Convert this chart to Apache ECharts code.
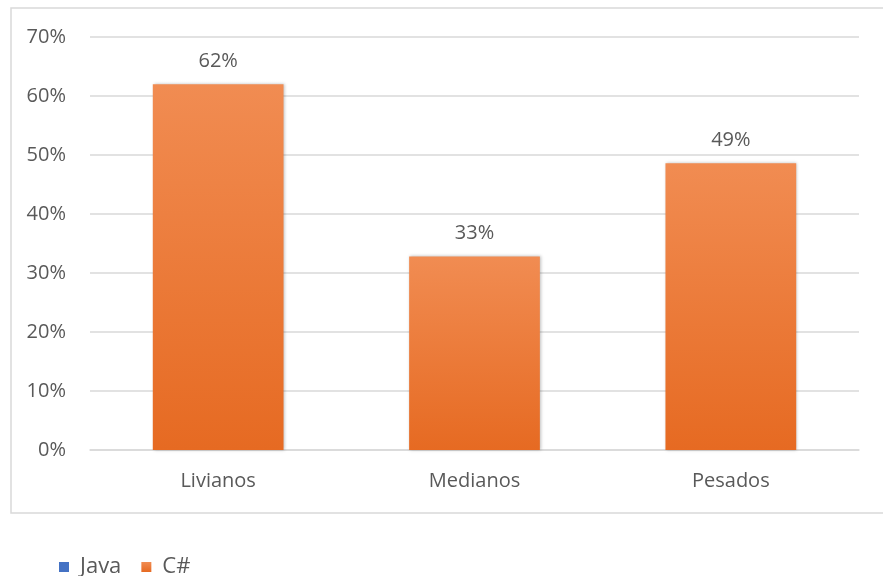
<!DOCTYPE html>
<html>
<head>
<meta charset="utf-8">
<script src="https://cdn.jsdelivr.net/npm/echarts@6/dist/echarts.min.js"></script>
<style>
  html, body { margin: 0; padding: 0; background: #fff; }
  #chart { width: 883px; height: 576px; }
</style>
</head>
<body>
<div id="chart"></div>
<script>
const categories = ['Livianos', 'Medianos', 'Pesados'];
const javaValues = ['-', '-', '-'];
const csharpValues = [62, 32.8, 48.6];
const yTicks = [0, 10, 20, 30, 40, 50, 60, 70];

const chart = echarts.init(document.getElementById('chart'));
const font = 'Open Sans';

chart.setOption({
    animation: false,
    backgroundColor: '#ffffff',
    graphic: [{
        type: 'rect',
        shape: { x: 11, y: 8, width: 880, height: 505 },
        style: { fill: 'none', stroke: '#d9d9d9', lineWidth: 1.5 },
        silent: true
    }],
    grid: { left: 90, right: 24, top: 37, bottom: 126 },
    legend: {
        left: 54,
        top: 551,
        itemWidth: 10,
        itemHeight: 10,
        itemGap: 20,
        icon: 'rect',
        textStyle: { fontFamily: font, fontSize: 22, color: '#595959', padding: [0, 0, 0, 6] },
        data: ['Java', 'C#']
    },
    xAxis: {
        type: 'category',
        data: categories,
        axisLine: { lineStyle: { color: '#d9d9d9', width: 1.5 } },
        axisTick: { show: false },
        axisLabel: { fontFamily: font, fontSize: 20, color: '#595959', margin: 21 }
    },
    yAxis: {
        type: 'value',
        min: yTicks[0],
        max: yTicks[yTicks.length - 1],
        interval: 10,
        axisLine: { show: false },
        axisTick: { show: false },
        splitLine: { lineStyle: { color: '#d9d9d9', width: 1.5 } },
        axisLabel: {
            fontFamily: font, fontSize: 20, color: '#595959', margin: 24,
            formatter: v => v + '%'
        }
    },
    series: [{
        name: 'Java',
        type: 'bar',
        data: javaValues,
        itemStyle: { color: '#4472c4' },
        barWidth: '51%',
        barGap: '-100%'
    }, {
        name: 'C#',
        type: 'bar',
        data: csharpValues,
        barWidth: '51%',
        itemStyle: {
            color: new echarts.graphic.LinearGradient(0, 0, 0, 1, [
                { offset: 0, color: '#f18c52' },
                { offset: 1, color: '#e66a22' }
            ]),
            shadowColor: 'rgba(0,0,0,0.25)',
            shadowBlur: 3,
            shadowOffsetX: 1
        },
        label: {
            show: true,
            position: 'top',
            distance: 13,
            fontFamily: font,
            fontSize: 20,
            color: '#595959',
            formatter: p => Math.round(p.value) + '%'
        }
    }]
});
</script>
</body>
</html>
